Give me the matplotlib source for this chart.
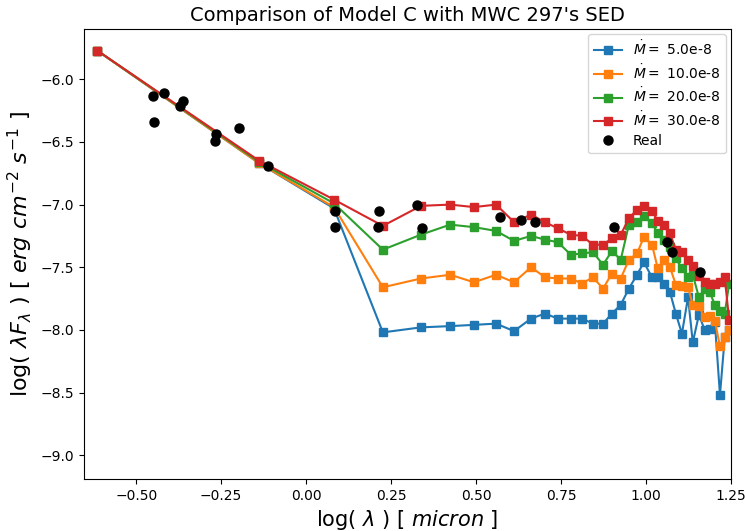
import numpy as np
import matplotlib.pyplot as plt

# log wavelength of the model points (micron)
log_lam = [-0.615, -0.138, 0.082, 0.226, 0.338, 0.424, 0.494, 0.559, 0.612, 0.662,
           0.703, 0.741, 0.779, 0.812, 0.844, 0.874, 0.900, 0.926, 0.950, 0.974,
           0.994, 1.018, 1.035, 1.053, 1.071, 1.088, 1.106, 1.124, 1.138, 1.156,
           1.173, 1.188, 1.203, 1.218, 1.232, 1.245]

flux_5 = [-5.77, -6.67, -7.03, -8.02, -7.98, -7.97, -7.96, -7.95, -8.01, -7.91,
          -7.87, -7.91, -7.91, -7.91, -7.95, -7.95, -7.87, -7.80, -7.67, -7.56,
          -7.46, -7.58, -7.58, -7.63, -7.70, -7.87, -8.03, -7.74, -8.10, -7.88,
          -8.00, -7.99, -7.94, -8.52, -8.06, -8.00]

flux_10 = [-5.77, -6.67, -7.02, -7.66, -7.59, -7.56, -7.62, -7.56, -7.62, -7.50,
           -7.58, -7.59, -7.59, -7.63, -7.58, -7.67, -7.55, -7.59, -7.44, -7.39,
           -7.26, -7.32, -7.51, -7.44, -7.50, -7.64, -7.65, -7.66, -7.80, -7.81,
           -7.90, -7.89, -7.93, -8.13, -8.06, -8.00]

flux_20 = [-5.77, -6.66, -6.99, -7.36, -7.24, -7.16, -7.18, -7.21, -7.29, -7.25,
           -7.28, -7.30, -7.40, -7.39, -7.38, -7.48, -7.37, -7.44, -7.16, -7.14,
           -7.09, -7.15, -7.23, -7.28, -7.34, -7.43, -7.51, -7.58, -7.56, -7.74,
           -7.67, -7.70, -7.80, -7.85, -7.87, -7.63]

flux_30 = [-5.77, -6.65, -6.96, -7.17, -7.01, -7.00, -7.02, -7.00, -7.14, -7.08,
           -7.14, -7.19, -7.24, -7.25, -7.32, -7.32, -7.27, -7.24, -7.11, -7.04,
           -7.01, -7.05, -7.13, -7.16, -7.23, -7.36, -7.38, -7.44, -7.49, -7.57,
           -7.62, -7.63, -7.63, -7.62, -7.58, -7.92]

# observed photometry
real_x = [-0.450, -0.418, -0.447, -0.371, -0.363, -0.266, -0.268, -0.197, -0.111,
          0.085, 0.085, 0.211, 0.215, 0.326, 0.342, 0.571, 0.631, 0.674,
          0.906, 1.063, 1.076, 1.159]
real_y = [-6.13, -6.11, -6.34, -6.21, -6.17, -6.44, -6.49, -6.39, -6.69,
          -7.05, -7.18, -7.18, -7.05, -7.00, -7.19, -7.10, -7.12, -7.14,
          -7.18, -7.30, -7.38, -7.54]

models = [("5.0e-8", flux_5), ("10.0e-8", flux_10),
          ("20.0e-8", flux_20), ("30.0e-8", flux_30)]

fig = plt.figure(figsize=(7.45, 5.31), dpi=100)
ax = fig.add_axes([0.113, 0.098, 0.868, 0.847])

for rate, flux in models:
    ax.plot(log_lam, flux, marker="s", markersize=6, label=r"$\dot{M}=$ " + rate)
ax.plot(real_x, real_y, "o", color="black", markersize=6.5, label="Real")

ax.set_xlim(-0.653, 1.25)
ax.set_ylim(-9.19, -5.60)
ax.set_xticks(np.arange(-0.5, 1.26, 0.25))
ax.set_yticks(np.arange(-9.0, -5.9, 0.5))

ax.set_title("Comparison of Model C with MWC 297's SED", fontsize=14)
ax.set_xlabel(r"log( $\lambda$ ) [ $micron$ ]", fontsize=15)
ax.set_ylabel(r"log( $\lambda F_\lambda$ ) [ $erg\ cm^{-2}\ s^{-1}$ ]", fontsize=16)
ax.legend(loc="upper right", labelspacing=0.35, borderaxespad=0.35)

fig.savefig("out.png", dpi=100)
